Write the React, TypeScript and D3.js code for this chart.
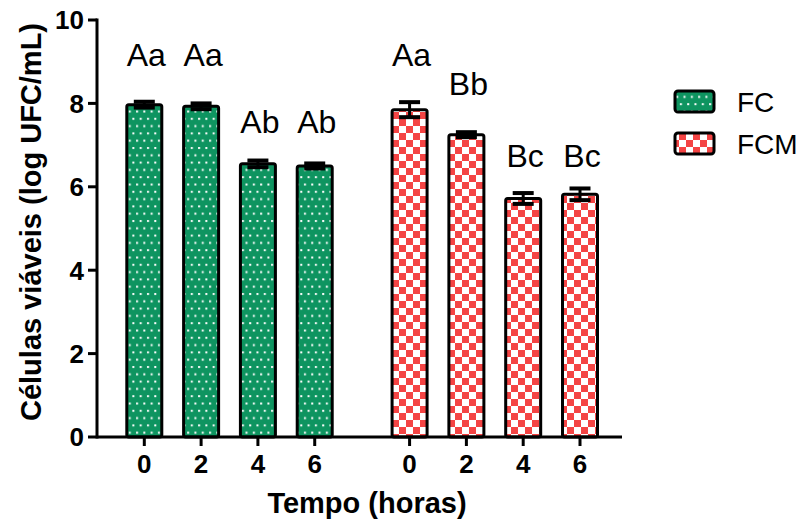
import React from "react";
import * as d3 from "d3";

const hours = ["0", "2", "4", "6"];
const seriesNames = ["FC", "FCM"];
const fcValues = [7.97, 7.93, 6.55, 6.5];
const fcErrors = [0.07, 0.07, 0.08, 0.06];
const fcmValues = [7.85, 7.25, 5.72, 5.82];
const fcmErrors = [0.18, 0.06, 0.13, 0.14];
const fcLetters = ["Aa", "Aa", "Ab", "Ab"];
const fcmLetters = ["Aa", "Bb", "Bc", "Bc"];
// letter heights, in the value units of the y axis
const fcLetterLevels = [8.9, 8.9, 7.29, 7.29];
const fcmLetterLevels = [8.9, 8.2, 6.47, 6.47];
const yTicks = [0, 2, 4, 6, 8, 10];

const W = 802;
const H = 519;
const FONT = "'Liberation Sans', Arial, Helvetica, sans-serif";
const GREEN = "#0E9460";
const RED = "#F44444";

export default function App() {
  const y = d3.scaleLinear().domain([0, 10]).range([437, 20]);
  const gap = 0.67;
  const slot = d3.scaleLinear().domain([0, 7 + gap]).range([144.3, 580]);
  const barW = 35;

  const groups = [
    { name: seriesNames[0], values: fcValues, errors: fcErrors, letters: fcLetters, levels: fcLetterLevels, fill: "url(#dots)" },
    { name: seriesNames[1], values: fcmValues, errors: fcmErrors, letters: fcmLetters, levels: fcmLetterLevels, fill: "url(#checks)" },
  ];

  const bars = groups.flatMap((g, gi) =>
    g.values.map((v, i) => ({
      key: `${gi}-${i}`,
      cx: slot(gi * (4 + gap) + i),
      v,
      e: g.errors[i],
      letter: g.letters[i],
      level: g.levels[i],
      fill: g.fill,
      label: hours[i],
    }))
  );

  return (
    <svg width={W} height={H} style={{ position: "absolute", left: 0, top: 0 }}>
      <defs>
        <pattern id="dots" patternUnits="userSpaceOnUse" width={7.3} height={14.6}>
          <rect width={7.3} height={14.6} fill={GREEN} />
          <rect x={1} y={1} width={2} height={2} fill="#fff" />
          <rect x={4.65} y={8.3} width={2} height={2} fill="#fff" />
        </pattern>
        <pattern id="checks" patternUnits="userSpaceOnUse" width={14} height={14}>
          <rect width={14} height={14} fill="#fff" />
          <rect x={0} y={0} width={7} height={7} fill={RED} />
          <rect x={7} y={7} width={7} height={7} fill={RED} />
        </pattern>
      </defs>
      <rect width={W} height={H} fill="#fff" />

      {bars.map((b) => (
        <g key={b.key}>
          <rect
            x={b.cx - barW / 2}
            y={y(b.v)}
            width={barW}
            height={y(0) - y(b.v)}
            fill={b.fill}
            stroke="#000"
            strokeWidth={3}
            rx={2}
          />
          <line x1={b.cx} x2={b.cx} y1={y(b.v - b.e)} y2={y(b.v + b.e)} stroke="#000" strokeWidth={3} />
          <line x1={b.cx - 10.5} x2={b.cx + 10.5} y1={y(b.v + b.e)} y2={y(b.v + b.e)} stroke="#000" strokeWidth={4} />
          <line x1={b.cx - 10.5} x2={b.cx + 10.5} y1={y(b.v - b.e)} y2={y(b.v - b.e)} stroke="#000" strokeWidth={4} />
          <text x={b.cx + 2} y={y(b.level)} textAnchor="middle" fontFamily={FONT} fontSize={32} fill="#000">
            {b.letter}
          </text>
          <line x1={b.cx} x2={b.cx} y1={y(0)} y2={y(0) + 9} stroke="#000" strokeWidth={3} />
          <text x={b.cx} y={473} textAnchor="middle" fontFamily={FONT} fontSize={26} fontWeight="bold" fill="#000">
            {b.label}
          </text>
        </g>
      ))}

      {/* axes */}
      <line x1={97} x2={622} y1={y(0)} y2={y(0)} stroke="#000" strokeWidth={3} />
      <line x1={97} x2={97} y1={y(10) - 1.5} y2={y(0) + 1.5} stroke="#000" strokeWidth={3} />
      {yTicks.map((t) => (
        <g key={t}>
          <line x1={88} x2={97} y1={y(t)} y2={y(t)} stroke="#000" strokeWidth={3} />
          <text x={84} y={y(t)} dy="0.36em" textAnchor="end" fontFamily={FONT} fontSize={26} fontWeight="bold" fill="#000">
            {t}
          </text>
        </g>
      ))}

      <text
        transform={`translate(41,222) rotate(-90)`}
        textAnchor="middle"
        fontFamily={FONT}
        fontSize={29}
        fontWeight="bold"
        fill="#000"
      >
        Células viáveis (log UFC/mL)
      </text>
      <text x={367} y={513} textAnchor="middle" fontFamily={FONT} fontSize={29} fontWeight="bold" fill="#000">
        Tempo (horas)
      </text>

      {/* legend */}
      {groups.map((g, gi) => (
        <g key={g.name} transform={`translate(0,${gi * 42})`}>
          <rect x={675} y={91} width={39} height={21} fill={g.fill} stroke="#000" strokeWidth={3} rx={3} />
          <text x={737} y={112} fontFamily={FONT} fontSize={28} fill="#000">
            {g.name}
          </text>
        </g>
      ))}
    </svg>
  );
}
